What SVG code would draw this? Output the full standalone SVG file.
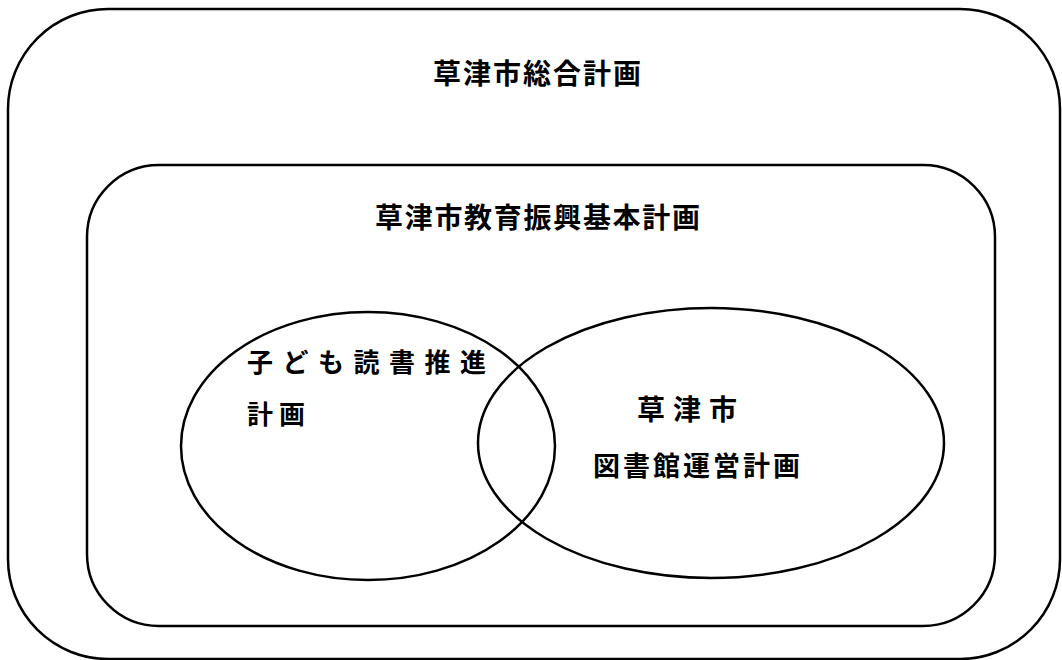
<svg xmlns="http://www.w3.org/2000/svg" width="1062" height="660" viewBox="0 0 1062 660">
<style>
.frame{fill:none;stroke:#000;stroke-width:2.5}
.t{font-family:"Noto Sans CJK JP","Noto Sans CJK SC",sans-serif;font-weight:700;fill:#000}
</style>
<rect width="1062" height="660" fill="#fff"/>
<g id="sogo">
<rect class="frame" x="8" y="9" width="1052" height="650" rx="100" ry="100"/>
<text class="t" x="433" y="84" font-size="28" letter-spacing="2">草津市総合計画</text>
</g>
<g id="kyoiku">
<rect class="frame" x="87" y="165" width="908" height="461" rx="72" ry="72"/>
<text class="t" x="375" y="228" font-size="28" letter-spacing="1.7">草津市教育振興基本計画</text>
</g>
<g id="dokusho">
<ellipse class="frame" cx="368" cy="446" rx="187" ry="134"/>
<text class="t" x="247" y="372" font-size="26" letter-spacing="9.5">子ども読書推進</text>
<text class="t" x="247" y="424" font-size="26" letter-spacing="6">計画</text>
</g>
<g id="toshokan">
<ellipse class="frame" cx="711" cy="443" rx="233" ry="135"/>
<text class="t" x="637" y="420" font-size="28" letter-spacing="8">草津市</text>
<text class="t" x="593" y="476" font-size="27" letter-spacing="3">図書館運営計画</text>
</g>
<g id="connectors"></g>
</svg>
